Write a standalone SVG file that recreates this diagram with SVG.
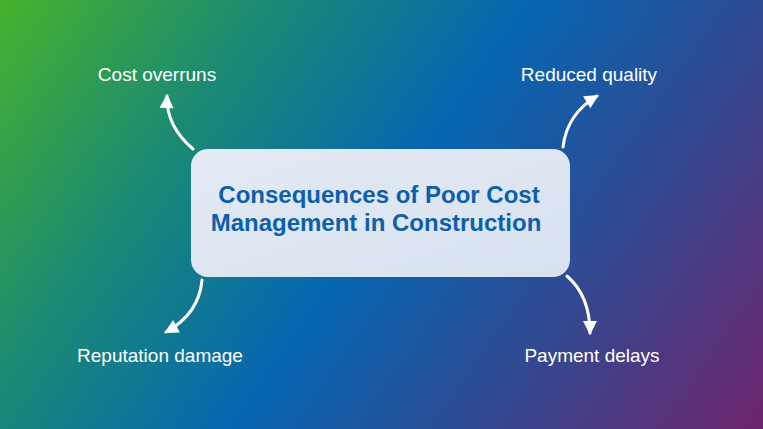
<svg xmlns="http://www.w3.org/2000/svg" width="763" height="429" viewBox="0 0 763 429">
<defs>
<linearGradient id="bg" gradientUnits="userSpaceOnUse" x1="0" y1="0" x2="714" y2="499">
<stop offset="0" stop-color="#46b22c"/>
<stop offset="0.25" stop-color="#1c8a72"/>
<stop offset="0.5" stop-color="#0666b2"/>
<stop offset="0.75" stop-color="#35478f"/>
<stop offset="1" stop-color="#6e256c"/>
</linearGradient>
<linearGradient id="box" x1="0" y1="0" x2="1" y2="1">
<stop offset="0" stop-color="#e2eaf3"/>
<stop offset="1" stop-color="#d8e2ef"/>
</linearGradient>
<marker id="ah" markerUnits="userSpaceOnUse" markerWidth="18" markerHeight="18" viewBox="0 0 18 18" refX="14" refY="9" orient="auto">
<path d="M2,2 L16,9 L2,16 Z" fill="#ffffff"/>
</marker>
</defs>
<style>
.lbl{font-family:"Liberation Sans",Arial,sans-serif;font-size:19px;fill:#ffffff;text-anchor:middle}
.ttl{font-family:"Liberation Sans",Arial,sans-serif;font-size:24px;font-weight:bold;fill:#0b5fac;text-anchor:middle}
.arr{fill:none;stroke:#ffffff;stroke-width:3;stroke-linecap:round;marker-end:url(#ah)}
</style>
<rect width="763" height="429" fill="url(#bg)"/>
<g id="connectors">
<path class="arr" d="M193,149 Q166,126 167,96"/>
<path class="arr" d="M563,147 Q567,114 597,96"/>
<path class="arr" d="M202,280 Q199,314 166,332"/>
<path class="arr" d="M567,276 Q590,296 590,333"/>
</g>
<g id="center">
<rect x="191" y="149" width="379" height="128" rx="17" fill="url(#box)"/>
<text class="ttl" x="379" y="203">Consequences of Poor Cost</text>
<text class="ttl" x="376" y="231">Management in Construction</text>
</g>
<g id="cost-overruns"><text class="lbl" x="157" y="81">Cost overruns</text></g>
<g id="reduced-quality"><text class="lbl" x="589" y="81">Reduced quality</text></g>
<g id="reputation-damage"><text class="lbl" x="160" y="362">Reputation damage</text></g>
<g id="payment-delays"><text class="lbl" x="592" y="362">Payment delays</text></g>
</svg>
